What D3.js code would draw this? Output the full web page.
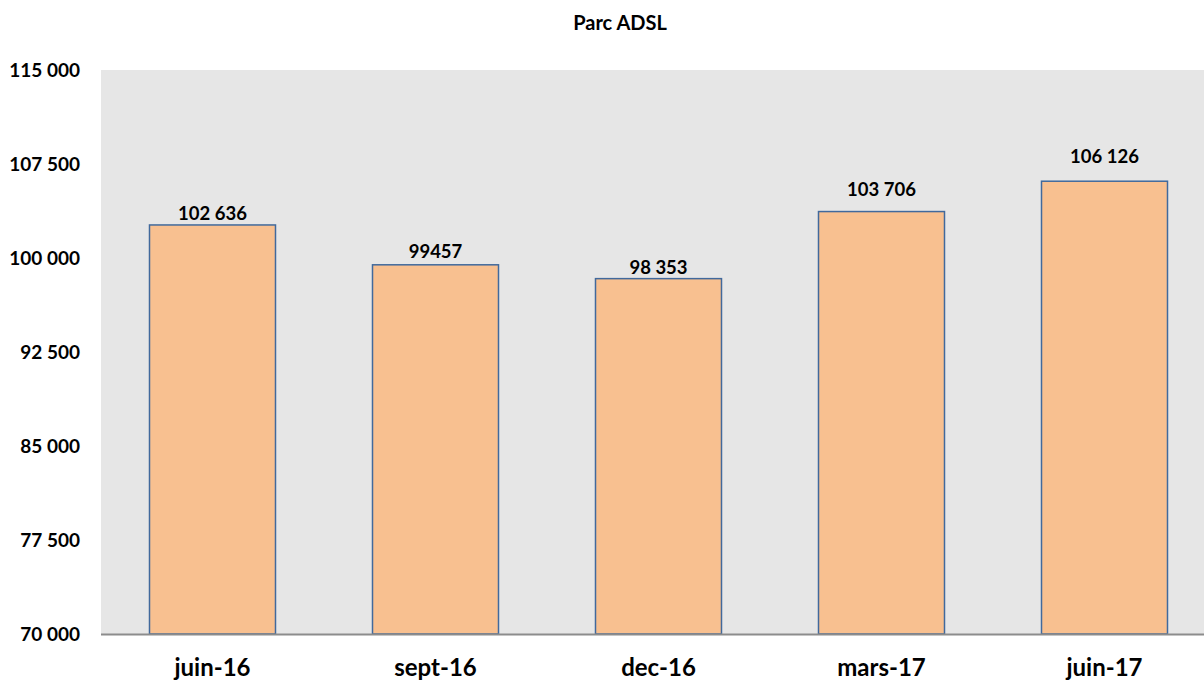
<!DOCTYPE html>
<html>
<head>
<meta charset="utf-8">
<script src="https://cdn.jsdelivr.net/npm/d3@7"></script>
<style>
  body { margin: 0; background: #fff; }
  text { font-family: Lato, "Open Sans", sans-serif; font-weight: bold; fill: #000; }
</style>
</head>
<body>
<svg id="chart"></svg>
<script>
var svgWidth = 1204, svgHeight = 681;
var categories = ['juin-16', 'sept-16', 'dec-16', 'mars-17', 'juin-17'];
var values = [102636, 99457, 98353, 103706, 106126];
var valueLabels = ['102 636', '99457', '98 353', '103 706', '106 126'];
var yTicks = [70000, 77500, 85000, 92500, 100000, 107500, 115000];
var title = 'Parc ADSL';

// label gaps above bars were hand placed in the source, keep them as is
var labelGaps = [5, 7, 5, 16, 18];

// plot area runs off the right edge, like the source
var plotLeft = 101, plotRight = 1216, plotTop = 70, plotBottom = 634;

var svg = d3.select('#chart')
    .attr('width', svgWidth)
    .attr('height', svgHeight);

var x = d3.scaleBand()
    .domain(categories)
    .range([plotLeft, plotRight])
    .paddingInner(0.435)
    .paddingOuter(0.2175);

var y = d3.scaleLinear()
    .domain([70000, 115000])
    .range([plotBottom, plotTop]);

var fmt = function(d) { return d3.format(',')(d).replace(/,/g, ' '); };

svg.append('rect')
    .attr('x', plotLeft)
    .attr('y', plotTop)
    .attr('width', plotRight - plotLeft)
    .attr('height', plotBottom - plotTop)
    .attr('fill', '#e6e6e6');

svg.append('text')
    .attr('x', 620)
    .attr('y', 30)
    .attr('text-anchor', 'middle')
    .style('font-size', '20px')
    .text(title);

// y tick labels
svg.selectAll('.ytick')
    .data(yTicks)
    .enter()
    .append('text')
    .attr('class', 'ytick')
    .attr('x', 80)
    .attr('y', function(d) { return y(d); })
    .attr('dy', '0.35em')
    .attr('text-anchor', 'end')
    .style('font-size', '19px')
    .text(fmt);

svg.selectAll('.bar')
    .data(values)
    .enter()
    .append('rect')
    .attr('class', 'bar')
    .attr('x', function(d, i) { return x(categories[i]); })
    .attr('y', function(d) { return y(d); })
    .attr('width', x.bandwidth())
    .attr('height', function(d) { return plotBottom - y(d); })
    .attr('fill', '#f8c090')
    .attr('stroke', '#41699c')
    .attr('stroke-width', 1.5);

svg.selectAll('.vlabel')
    .data(values)
    .enter()
    .append('text')
    .attr('class', 'vlabel')
    .attr('x', function(d, i) { return x(categories[i]) + x.bandwidth() / 2; })
    .attr('y', function(d, i) { return y(d) - labelGaps[i]; })
    .attr('text-anchor', 'middle')
    .style('font-size', '18.5px')
    .text(function(d, i) { return valueLabels[i]; });

// x axis line
svg.append('line')
    .attr('x1', plotLeft)
    .attr('x2', plotRight)
    .attr('y1', plotBottom + 0.5)
    .attr('y2', plotBottom + 0.5)
    .attr('stroke', '#8c8c8c')
    .attr('stroke-width', 2);

svg.selectAll('.xlabel')
    .data(categories)
    .enter()
    .append('text')
    .attr('class', 'xlabel')
    .attr('x', function(d) { return x(d) + x.bandwidth() / 2; })
    .attr('y', 676)
    .attr('text-anchor', 'middle')
    .style('font-size', '24px')
    .text(function(d) { return d; });
</script>
</body>
</html>
